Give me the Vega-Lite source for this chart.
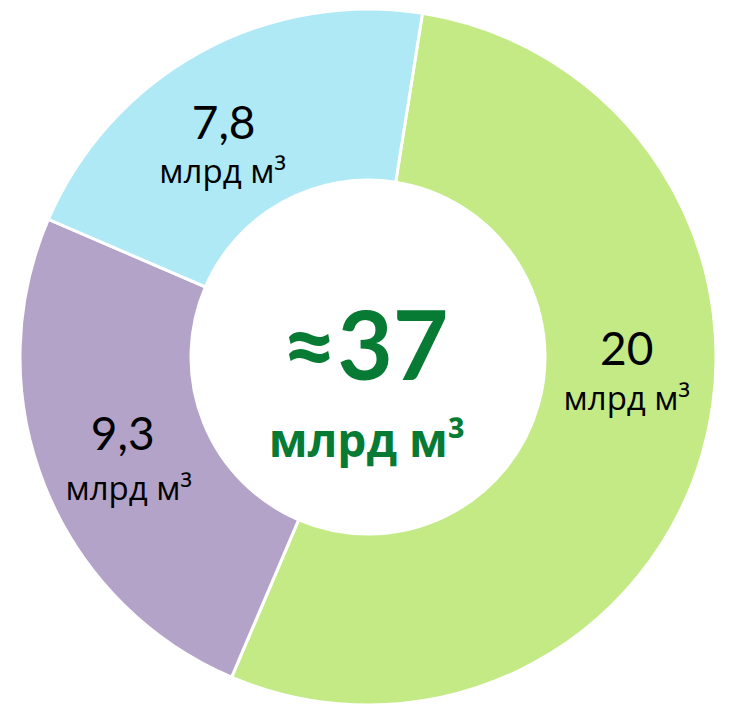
{
  "$schema": "https://vega.github.io/schema/vega-lite/v6.json",
  "autosize": {"type": "fit", "contains": "padding"},
  "width": 730,
  "height": 704,
  "padding": {"left": 6, "top": 10, "right": 0, "bottom": 0},
  "background": "white",
  "view": {"stroke": null},
  "datasets": {
    "segments": [
      {"n": 1, "segment": "green", "value": 20, "num": "20", "unit": "млрд м³"},
      {"n": 2, "segment": "purple", "value": 9.3, "num": "9,3", "unit": "млрд м³"},
      {"n": 3, "segment": "blue", "value": 7.8, "num": "7,8", "unit": "млрд м³"}
    ],
    "center": [
      {"line": 1, "text": "≈37"},
      {"line": 2, "text": "млрд м³"}
    ]
  },
  "layer": [
    {
      "data": {"name": "segments"},
      "mark": {"type": "arc", "outerRadius": 348, "innerRadius": 177, "stroke": "white", "strokeWidth": 3},
      "encoding": {
        "theta": {"field": "value", "type": "quantitative", "stack": true, "scale": {"range": [0.1571, 6.4403]}},
        "order": {"field": "n", "type": "quantitative"},
        "color": {"field": "segment", "type": "nominal", "legend": null,
          "scale": {"domain": ["green", "purple", "blue"], "range": ["#C3EA85", "#B3A3C9", "#AEE9F5"]}}
      }
    },
    {
      "data": {"name": "segments"},
      "mark": {"type": "text", "radius": 262, "font": "Lato", "fontSize": 46, "color": "black", "baseline": "alphabetic", "align": "center",
        "dx": {"expr": "datum.n == 1 ? 7 : datum.n == 2 ? -2 : -18"},
        "dy": {"expr": "datum.n == 1 ? -64 : datum.n == 2 ? -4 : 12"}},
      "encoding": {
        "theta": {"field": "value", "type": "quantitative", "stack": true, "scale": {"range": [0.1571, 6.4403]}},
        "order": {"field": "n", "type": "quantitative"},
        "text": {"field": "num"}
      }
    },
    {
      "data": {"name": "segments"},
      "mark": {"type": "text", "radius": 262, "font": "Open Sans", "fontSize": 33, "color": "black", "baseline": "alphabetic", "align": "center",
        "dx": {"expr": "datum.n == 1 ? 7 : datum.n == 2 ? 4 : -19"},
        "dy": {"expr": "datum.n == 1 ? -19 : datum.n == 2 ? 46 : 56"}},
      "encoding": {
        "theta": {"field": "value", "type": "quantitative", "stack": true, "scale": {"range": [0.1571, 6.4403]}},
        "order": {"field": "n", "type": "quantitative"},
        "text": {"field": "unit"}
      }
    },
    {
      "data": {"name": "center"},
      "transform": [{"filter": "datum.line == 1"}],
      "mark": {"type": "text", "font": "Lato", "fontWeight": "bold", "fontSize": 96, "color": "#077A33", "baseline": "alphabetic", "align": "center", "dx": -3, "dy": 23},
      "encoding": {"text": {"field": "text"}}
    },
    {
      "data": {"name": "center"},
      "transform": [{"filter": "datum.line == 2"}],
      "mark": {"type": "text", "font": "Open Sans", "fontWeight": "bold", "fontSize": 46, "color": "#077A33", "baseline": "alphabetic", "align": "center", "dx": -1, "dy": 100},
      "encoding": {"text": {"field": "text"}}
    }
  ]
}
